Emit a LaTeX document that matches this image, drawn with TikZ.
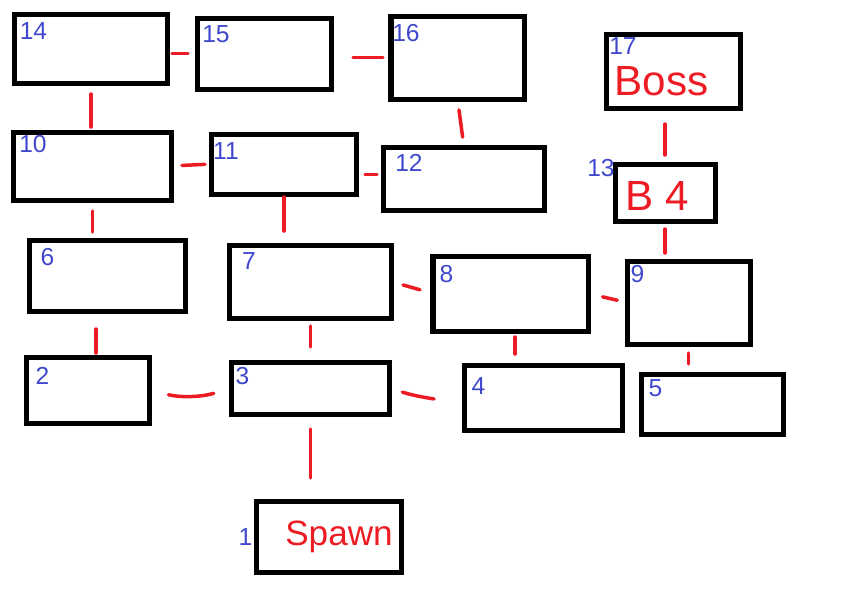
\documentclass[tikz,border=0pt]{standalone}
\usepackage{fontspec}
\setmainfont{Liberation Sans}
\definecolor{paintred}{RGB}{237,28,36}
\definecolor{paintblue}{RGB}{63,72,204}

\begin{document}
\begin{tikzpicture}[
x=0.2mm, y=-0.2mm,
room/.style={draw=black, line width=1mm, inner sep=0pt, outer sep=0pt},
num/.style={text=paintblue, font=\fontsize{14}{14}\selectfont, inner sep=0pt},
tag/.style={text=paintred, inner sep=0pt, anchor=base},
door/.style={draw=paintred, line width=0.7mm, line cap=round}
]
\useasboundingbox (0,0) rectangle (862,608);

\node[room, minimum width=30.4mm, minimum height=13.8mm] at (91, 48.5) (r14) {};
\node[room, minimum width=26.6mm, minimum height=14.2mm] at (264.5, 53.5) (r15) {};
\node[room, minimum width=26.6mm, minimum height=16.6mm] at (457.5, 57.5) (r16) {};
\node[room, minimum width=26.8mm, minimum height=14.8mm] at (673, 71) (r17) {};
\node[room, minimum width=31.4mm, minimum height=13.6mm] at (92.5, 166) (r10) {};
\node[room, minimum width=28.8mm, minimum height=12mm] at (284, 164) (r11) {};
\node[room, minimum width=32mm, minimum height=12.6mm] at (464, 178.5) (r12) {};
\node[room, minimum width=20mm, minimum height=11.4mm] at (665, 192.5) (r13) {};
\node[room, minimum width=31mm, minimum height=14.2mm] at (107.5, 275.5) (r6) {};
\node[room, minimum width=32.2mm, minimum height=14.6mm] at (310.5, 281.5) (r7) {};
\node[room, minimum width=31mm, minimum height=15mm] at (510.5, 293.5) (r8) {};
\node[room, minimum width=24.6mm, minimum height=16.6mm] at (688.5, 302.5) (r9) {};
\node[room, minimum width=24.4mm, minimum height=13.2mm] at (88, 390) (r2) {};
\node[room, minimum width=31.4mm, minimum height=10.4mm] at (310.5, 388) (r3) {};
\node[room, minimum width=31.6mm, minimum height=13mm] at (543, 397.5) (r4) {};
\node[room, minimum width=28.4mm, minimum height=12mm] at (712, 404) (r5) {};
\node[room, minimum width=28.8mm, minimum height=14.2mm] at (329, 536.5) (r1) {};

\node[num] at (33.5, 31.5) (n14) {14};
\node[num] at (216, 34) (n15) {15};
\node[num] at (406, 33) (n16) {16};
\node[num] at (623, 46.5) (n17) {17};
\node[num] at (33, 144.5) (n10) {10};
\node[num] at (226, 151) (n11) {11};
\node[num] at (409, 162.5) (n12) {12};
\node[num] at (601, 168.5) (n13) {13};
\node[num] at (47.5, 257.5) (n6) {6};
\node[num] at (249, 261.5) (n7) {7};
\node[num] at (446.5, 274.5) (n8) {8};
\node[num] at (637.5, 274) (n9) {9};
\node[num] at (42.5, 375.5) (n2) {2};
\node[num] at (242.5, 376) (n3) {3};
\node[num] at (478.5, 386) (n4) {4};
\node[num] at (655.5, 388) (n5) {5};
\node[num] at (245.5, 537.5) (n1) {1};

\node[tag, font=\fontsize{24}{24}\selectfont] at (661.5, 95) (boss) {Boss};
\node[tag, font=\fontsize{24}{24}\selectfont] at (657, 210) (b4) {B 4};
\node[tag, font=\fontsize{20}{20}\selectfont] at (339, 545) (spawn) {Spawn};

\draw[door, shorten <=1mm, shorten >=2mm] (r15.west -| r14.east) -- (r15.west);
\draw[door, shorten <=4.4mm, shorten >=1.6mm] (r16.west -| r15.east) -- (r16.west);
\draw[door, shorten <=2.2mm, shorten >=1mm] (r14.south) -- (r14.south |- r10.north);
\draw[door, shorten <=2.2mm, shorten >=2mm] (r16.south) -- (r12.north);
\draw[door, shorten <=3.2mm, shorten >=1.8mm] (r13.north |- r17.south) -- (r13.north);
\draw[door, shorten <=2.2mm, shorten >=1.4mm] (r10.east) -- (r11.west);
\draw[door, shorten <=1.8mm, shorten >=1.4mm] (r12.177 -| r11.east) -- (r12.177);
\draw[door, shorten <=2.2mm, shorten >=1.6mm] (r10.south) -- (r10.south |- r6.north);
\draw[door, shorten <=0.6mm, shorten >=2.8mm] (r11.south) -- (r11.south |- r7.north);
\draw[door, shorten <=1.6mm, shorten >=1.6mm] (r13.south) -- (r13.south |- r9.north);
\draw[door, shorten <=3.6mm, shorten >=0.8mm] (r6.252) -- (r6.252 |- r2.north);
\draw[door, shorten <=1.6mm, shorten >=3mm] (r7.south) -- (r3.north);
\draw[door, shorten <=2.5mm, shorten >=2.7mm] (r7.east) -- (r8.west);
\draw[door, shorten <=3mm, shorten >=2mm] (r8.east) -- (r9.west);
\draw[door, shorten <=1.2mm, shorten >=2.2mm] (r8.277) -- (r8.277 |- r4.north);
\draw[door, shorten <=1.8mm, shorten >=2mm] (r9.south) -- (r9.south |- r5.north);
\draw[door, shorten <=4mm, shorten >=3.8mm] (r2.east) to[bend right=15] (r3.west);
\draw[door, shorten <=2.8mm, shorten >=6mm] (r3.east) to[bend right=10] (r4.west);
\draw[door, shorten <=3mm, shorten >=4.6mm] (r3.south) -- (r3.south |- r1.north);
\end{tikzpicture}
\end{document}
